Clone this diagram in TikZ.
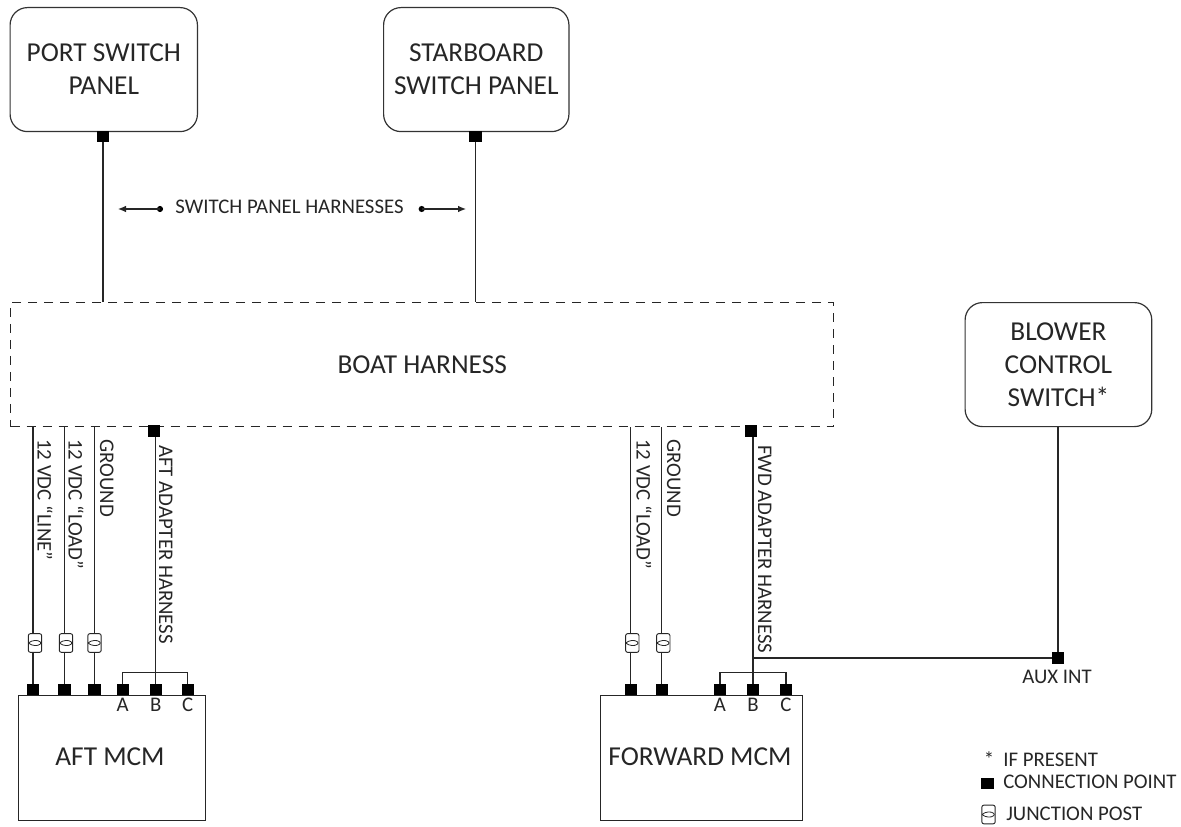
\documentclass[tikz,border=0pt]{standalone}
\usepackage{fontspec}
\setmainfont{Carlito}
\usetikzlibrary{arrows.meta}
\tikzset{
  x=0.75pt,y=-0.75pt,
  wire/.style={draw=black!85,line width=0.85pt},
  panel/.style={draw=black!80,line width=0.9pt,rounded corners=13pt,align=center,font=\fontsize{20.5}{24.75}\selectfont,inner sep=0pt,text=black!85},
  mcm/.style={draw=black!85,line width=0.85pt,inner sep=0pt},
  cpoint/.style={fill=black,inner sep=0pt,minimum width=9.2pt,minimum height=8.4pt,rectangle},
  pin/.style={font=\fontsize{15.6}{18}\selectfont,text=black!85,inner sep=0pt},
  wlabel/.style={font=\fontsize{15.6}{18}\selectfont,text=black!85,inner sep=0pt,rotate=-90,anchor=north west},
  small/.style={font=\fontsize{15.6}{18}\selectfont,text=black!85,inner sep=0pt},
  post/.style={draw=black!85,fill=white,line width=0.7pt,rounded corners=1.5pt,minimum width=10pt,minimum height=14pt,inner sep=0pt,
    path picture={\draw[black!85,line width=0.6pt]
      (path picture bounding box.west) to[bend left=38] (path picture bounding box.east)
      to[bend left=38] (path picture bounding box.west);}},
  capt/.style={font=\fontsize{20.5}{24}\selectfont,text=black!85,inner sep=0pt},
}
\begin{document}
\begin{tikzpicture}
\useasboundingbox (0,0) rectangle (1181,827);
% panels
\node[panel,minimum width=140.5pt,minimum height=93pt,anchor=north west] (port) at (9.5,7) {PORT SWITCH\\PANEL};
\node[panel,minimum width=139pt,minimum height=93pt,anchor=north west] (star) at (383,7) {STARBOARD\\SWITCH PANEL};
\node[panel,minimum width=140pt,minimum height=93pt,anchor=north west] (blower) at (964.5,302) {BLOWER\\CONTROL\\SWITCH*};
% boat harness
\node[draw=black!85,dashed,dash pattern=on 7pt off 5pt,line width=0.85pt,minimum width=617.5pt,minimum height=93pt,anchor=north west,inner sep=0pt,font=\fontsize{20.5}{24}\selectfont,text=black!85] (boat) at (10,302) {BOAT HARNESS};
% MCMs
\node[mcm,minimum width=140pt,minimum height=94pt,anchor=north west] (aft) at (18,695) {};
\node[capt] (aftt) at (110,757) {AFT MCM};
\node[mcm,minimum width=151.5pt,minimum height=94pt,anchor=north west] (fwd) at (600,695) {};
\node[capt] (fwdt) at (700,757) {FORWARD MCM};
% connection points
\foreach \n/\x/\y in {pa/103/136.5,pb/475.5/136.5,
  a1/33/689.5,a2/64.5/689.5,a3/94.5/689.5,aA/122.7/689.5,aB/155.7/689.5,aC/187.7/689.5,
  f1/630.7/689.5,f2/661.7/689.5,fA/720/689.5,fB/753/689.5,fC/786/689.5,
  ah/154/431,fh/751/431,aux/1058/658}
  \node[cpoint] (\n) at (\x,\y) {};
% coordinates on the boat harness
\coordinate (ba) at (pa|-boat.north);
\coordinate (bb) at (pb|-boat.north);
\coordinate (b1) at (a1|-boat.south);
\coordinate (b2) at (a2|-boat.south);
\coordinate (b3) at (a3|-boat.south);
\coordinate (b4) at (f1|-boat.south);
\coordinate (b5) at (f2|-boat.south);
% wires
\draw[wire] (pa) -- (ba);
\draw[wire] (pb) -- (bb);
\foreach \s/\e in {b1/a1,b2/a2,b3/a3,b4/f1,b5/f2}
  \draw[wire] (\s) -- (\e);
\coordinate (ahb) at (aB|-ah.south);
\coordinate (fhb) at (fB|-fh.south);
\draw[wire] (ahb) -- (aB.north);
\draw[wire] (fhb) -- (fB.north);
\coordinate (abus) at (aB|-0,672.7);
\draw[wire] (aA.north) |- (abus) -| (aC.north);
\coordinate (fbus) at (fB|-0,672.7);
\draw[wire] (fA.north) |- (fbus) -| (fC.north);
\coordinate (fj) at (fB|-aux);
\draw[wire] (fj) -- (aux.west);
\draw[wire] (blower.south-|aux) -- (aux.north);
% junction posts
\node[post] (p1) at (35,643) {};
\node[post] (p2) at (66,643) {};
\node[post] (p3) at (94.5,643) {};
\node[post] (p4) at (632.3,643) {};
\node[post] (p5) at (663.3,643) {};
% wire labels
\node[wlabel] (l1) at (53,439) {12 VDC “LINE”};
\node[wlabel] (l2) at (84,439) {12 VDC “LOAD”};
\node[wlabel] (l3) at (114,439) {GROUND};
\node[wlabel] (l4) at (173,445) {AFT ADAPTER HARNESS};
\node[wlabel] (l5) at (652,439) {12 VDC “LOAD”};
\node[wlabel] (l6) at (681,439) {GROUND};
\node[wlabel] (l7) at (772,445) {FWD ADAPTER HARNESS};
% pin letters
\foreach \p/\t in {aA/A,aB/B,aC/C,fA/A,fB/B,fC/C}
  \node[pin,anchor=base] at (\p|-0,711) {\t};
% switch panel harness label
\node[small,anchor=base] (sp) at (289.5,214) {SWITCH PANEL HARNESSES};
\coordinate (s1) at (160,209);
\coordinate (s2) at (118,209);
\coordinate (s3) at (421.7,209);
\coordinate (s4) at (466,209);
\fill[black] (s1) circle (2.3pt);
\fill[black] (s3) circle (2.3pt);
\draw[wire,-{Latex[length=6pt,width=5pt]}] (s1) -- (s2);
\draw[wire,-{Latex[length=6pt,width=5pt]}] (s3) -- (s4);
% legend and aux label
\node[small,anchor=base] (auxt) at (1057,683) {AUX INT};
\node[small,anchor=base west] (lg1) at (1003,766) {IF PRESENT};
\node[small,anchor=base] (lg1s) at (989,766) {*};
\node[small,anchor=base west] (lg2) at (1003,788) {CONNECTION POINT};
\node[fill=black,inner sep=0pt,minimum width=10pt,minimum height=8.2pt] (lg2s) at (987.5,783.5) {};
\node[small,anchor=base west] (lg3) at (1006,820) {JUNCTION POST};
\node[post] (lg3s) at (988.5,814.5) {};
\end{tikzpicture}
\end{document}
